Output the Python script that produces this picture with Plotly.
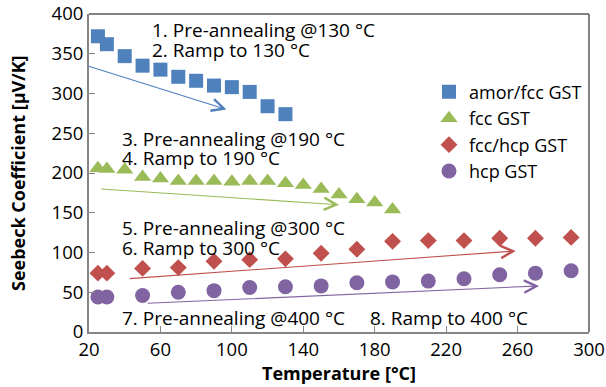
import plotly.graph_objects as go

# ---- data ----
amor_x = [25, 30, 40, 50, 60, 70, 80, 90, 100, 110, 120, 130]
amor_y = [372, 362, 347, 335, 330, 321, 316, 310, 308, 302, 284, 274]

fcc_x = [25, 30, 40, 50, 60, 70, 80, 90, 100, 110, 120, 130, 140, 150, 160, 170, 180, 190]
fcc_y = [206, 205, 204, 195, 193, 190, 190, 190, 189, 190, 190, 187, 185, 180, 173, 167, 163, 154]

fcchcp_x = [25, 30, 50, 70, 90, 110, 130, 150, 170, 190, 210, 230, 250, 270, 290]
fcchcp_y = [74, 74, 80, 81, 89, 91, 92, 99, 104, 114, 115, 115, 118, 118, 119]

hcp_x = [25, 30, 50, 70, 90, 110, 130, 150, 170, 190, 210, 230, 250, 270, 290]
hcp_y = [44, 44, 46, 50, 52, 56, 57, 58, 62, 63, 64, 67, 72, 74, 77]

series_names = ["amor/fcc GST", "fcc GST", "fcc/hcp GST", "hcp GST"]
colors = ["#4F81BD", "#9BBB59", "#C0504D", "#8064A2"]
symbols = ["square", "triangle-up", "diamond", "circle"]

# arrows: (x_start, y_start, x_end, y_end)
arrows = [
    (19, 335, 97, 280),
    (26, 180, 160, 160),
    (42, 67, 259, 102),
    (52, 36, 272, 58),
]

# text labels: (x, y, text)
labels = [
    (54, 380, "1. Pre-annealing @130 °C"),
    (54, 355, "2. Ramp to 130 °C"),
    (37.5, 243, "3. Pre-annealing @190 °C"),
    (37.5, 219, "4. Ramp to 190 °C"),
    (37.5, 131, "5. Pre-annealing @300 °C"),
    (37.5, 106, "6. Ramp to 300 °C"),
    (37.5, 18, "7. Pre-annealing @400 °C"),
    (176, 18, "8. Ramp to 400 °C"),
]

FONT = "Open Sans"
FS = 19

fig = go.Figure()
data = [(amor_x, amor_y), (fcc_x, fcc_y), (fcchcp_x, fcchcp_y), (hcp_x, hcp_y)]
sizes = [14, 15, 13, 15]
for (xs, ys), name, c, s, sz in zip(data, series_names, colors, symbols, sizes):
    fig.add_trace(go.Scatter(x=xs, y=ys, mode="markers", name=name,
                             marker=dict(color=c, symbol=s, size=sz)))

annotations = []
for (x0, y0, x1, y1), c in zip(arrows, colors):
    annotations.append(dict(x=x1, y=y1, ax=x0, ay=y0, xref="x", yref="y",
                            axref="x", ayref="y", text="", showarrow=True,
                            arrowhead=5, arrowsize=2.2, arrowwidth=1.1,
                            arrowcolor=c, standoff=0, startstandoff=0))
for x, y, t in labels:
    annotations.append(dict(x=x, y=y, xref="x", yref="y", text=t, showarrow=False,
                            xanchor="left", yanchor="middle",
                            font=dict(family=FONT, size=FS, color="#000000")))

# axis titles
annotations.append(dict(x=0.5, y=-0.129, xref="paper", yref="paper",
                        text="<b>Temperature [°C]</b>", showarrow=False,
                        xanchor="center", yanchor="middle",
                        font=dict(family=FONT, size=18, color="#000000")))
annotations.append(dict(x=-0.142, y=0.5, xref="paper", yref="paper",
                        text="<b>Seebeck Coefficient [µV/K]</b>", showarrow=False,
                        textangle=-90, xanchor="center", yanchor="middle",
                        font=dict(family=FONT, size=18, color="#000000")))

fig.update_layout(
    width=606, height=387,
    margin=dict(l=89, r=17, t=14, b=55),
    paper_bgcolor="white", plot_bgcolor="white",
    font=dict(family=FONT, size=FS, color="#000000"),
    showlegend=True,
    legend=dict(x=0.68, y=0.63, xanchor="left", yanchor="middle",
                font=dict(family=FONT, size=18), bgcolor="rgba(0,0,0,0)",
                tracegroupgap=0, itemwidth=30),
    annotations=annotations,
    shapes=[
        dict(type="line", xref="paper", yref="paper", x0=0, x1=1, y0=1, y1=1,
             line=dict(color="#595959", width=1.5)),
        dict(type="line", xref="paper", yref="paper", x0=1, x1=1, y0=0, y1=1,
             line=dict(color="#595959", width=1.5)),
    ],
)
fig.update_xaxes(range=[20, 300], tick0=20, dtick=40, ticks="inside", ticklen=6,
                 tickcolor="#868686", showline=True, linecolor="#868686", linewidth=2,
                 showgrid=False, zeroline=False, automargin=False,
                 tickfont=dict(family=FONT, size=18.5))
fig.update_yaxes(range=[0, 400], dtick=50, ticks="inside", ticklen=6,
                 tickcolor="#868686", showline=True, linecolor="#868686", linewidth=2,
                 showgrid=False, zeroline=False, automargin=False,
                 tickfont=dict(family=FONT, size=18.5))

fig.write_html("out.html", config={"displayModeBar": False},
               post_script="document.body.style.margin='0';document.body.style.padding='0';")
